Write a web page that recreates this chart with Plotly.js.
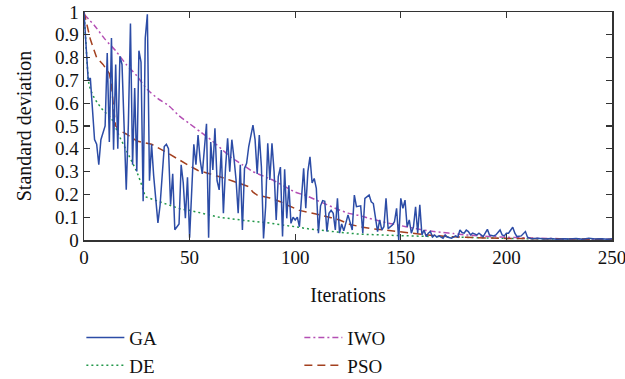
<!DOCTYPE html>
<html>
<head>
<meta charset="utf-8">
<script src="https://cdn.plot.ly/plotly-3.0.1.min.js"></script>
<style>html,body{margin:0;padding:0;background:#fff;}#chart{width:625px;height:379px;}</style>
</head>
<body>
<div id="chart"></div>
<script>
// GA (noisy)
const gaIter = [0,1,2,3,5,6,7,8,10,11,12,13,14,15,16,17,18,20,21,22,23,24,25,26,27,28,29,30,31,32,33,35,36,38,39,40,41,42,43,45,46,47,48,49,50,52,53,54,55,56,57,58,59,60,61,62,63,64,65,66,67,68,69,70,71,72,73,74,75,76,77,78,80,81,82,83,84,85,86,87,88,89,90,91,92,93,94,95,96,97,98,99,100,101,102,103,104,105,106,107,108,109,110,111,112,113,114,115,116,117,118,119,120,121,122,123,125,127,128,129,131,132,133,135,136,137,138,139,140,141,142,143,144,145,146,147,148,149,150,151,152,153,154,155,156,157,158,159,160,161,162,163,164,165,166,167,168,170,171,172,174,176,177,178,179,180,181,182,183,184,186,187,189,191,192,194,195,197,198,199,200,201,203,204,205,207,209,210,212,215,218,221,224,227,230,233,236,239,242,245,248,250];
const gaStd = [1.0,0.86,0.70,0.71,0.44,0.42,0.33,0.44,0.50,0.82,0.43,0.886,0.396,0.77,0.40,0.806,0.77,0.22,0.506,0.95,0.33,0.667,0.30,0.83,0.78,0.17,0.886,0.99,0.26,0.42,0.28,0.075,0.15,0.41,0.42,0.40,0.155,0.29,0.045,0.07,0.33,0.25,0.096,0.275,0.01,0.42,0.33,0.46,0.35,0.29,0.42,0.51,0.01,0.43,0.307,0.49,0.26,0.22,0.395,0.117,0.314,0.446,0.30,0.44,0.36,0.263,0.117,0.33,0.044,0.314,0.336,0.41,0.504,0.44,0.29,0.46,0.32,0.007,0.146,0.424,0.263,0.424,0.30,0.088,0.278,0.32,0.015,0.31,0.095,0.24,0.073,0.10,0.088,0.10,0.058,0.20,0.314,0.139,0.30,0.365,0.25,0.27,0.227,0.03,0.15,0.173,0.17,0.037,0.117,0.13,0.117,0.044,0.183,0.03,0.07,0.04,0.11,0.044,0.197,0.146,0.15,0.03,0.183,0.197,0.168,0.16,0.088,0.037,0.088,0.044,0.058,0.183,0.05,0.058,0.066,0.08,0.139,0.0,0.183,0.139,0.175,0.058,0.088,0.03,0.058,0.146,0.03,0.154,0.022,0.044,0.015,0.03,0.037,0.013,0.022,0.013,0.018,0.008,0.022,0.013,0.008,0.018,0.013,0.044,0.033,0.03,0.044,0.037,0.022,0.03,0.022,0.03,0.015,0.047,0.022,0.018,0.022,0.044,0.022,0.018,0.03,0.03,0.056,0.03,0.015,0.018,0.037,0.012,0.005,0.008,0.004,0.007,0.003,0.006,0.004,0.007,0.003,0.008,0.004,0.006,0.003,0.005];

// DE
const deIter = [0,1,2,3,5,8,10,13,15,17,21,25,27,29,32,38,46,50,57,64,75,88,100,107,120,130,150,173,200,225,250];
const deStd  = [1.0,0.84,0.70,0.66,0.62,0.58,0.56,0.535,0.49,0.45,0.375,0.30,0.25,0.19,0.18,0.162,0.135,0.13,0.114,0.10,0.087,0.074,0.058,0.048,0.035,0.026,0.019,0.013,0.007,0.004,0.002];

// IWO
const iwoIter = [0,5,10,15,20,25,30,35,40,45,50,55,60,65,70,75,80,85,90,95,100,105,110,115,120,125,130,135,140,145,150,155,160,165,170,175,180,190,200,210,220,230,240,250];
const iwoStd  = [0.99,0.94,0.88,0.83,0.77,0.72,0.66,0.62,0.59,0.545,0.51,0.475,0.44,0.40,0.36,0.33,0.30,0.28,0.26,0.235,0.21,0.195,0.175,0.155,0.135,0.118,0.108,0.095,0.083,0.072,0.063,0.054,0.045,0.038,0.033,0.028,0.023,0.016,0.012,0.009,0.007,0.005,0.004,0.003];

// PSO
const psoIter = [0,3,6,9,12,13,14,15,17,20,25,32,38,46,50,54,60,65,70,75,78,80,82,88,93,97,102,107,112,117,121,126,131,136,142,150,158,165,173,180,190,200,210,220,235,250];
const psoStd  = [1.0,0.88,0.80,0.77,0.73,0.68,0.58,0.50,0.48,0.465,0.434,0.42,0.39,0.345,0.325,0.305,0.29,0.275,0.26,0.245,0.234,0.21,0.197,0.184,0.168,0.15,0.13,0.12,0.11,0.098,0.088,0.068,0.058,0.05,0.044,0.035,0.026,0.02,0.015,0.012,0.009,0.007,0.006,0.005,0.004,0.003];

const seriesNames = ['GA','DE','IWO','PSO'];
const xTicks = [0,50,100,150,200,250];
const yTicks = [0,0.1,0.2,0.3,0.4,0.5,0.6,0.7,0.8,0.9,1];
const yTickText = ['0','0.1','0.2','0.3','0.4','0.5','0.6','0.7','0.8','0.9','1'];

const FONT = 'Liberation Serif, Times New Roman, serif';

const traces = [
  {x: deIter, y: deStd, name: seriesNames[1], mode: 'lines', legendrank: 3,
   line: {color: '#22984a', width: 1.5, dash: '2px,3px'}},
  {x: iwoIter, y: iwoStd, name: seriesNames[2], mode: 'lines', legendrank: 2, line: {shape: 'spline', smoothing: 0.6,
   color: '#b44fb4', width: 1.5, dash: '6px,3px,2px,3px'}},
  {x: psoIter, y: psoStd, name: seriesNames[3], mode: 'lines', legendrank: 4,
   line: {color: '#a3401f', width: 1.5, dash: '8px,5px'}},
  {x: gaIter, y: gaStd, name: seriesNames[0], mode: 'lines', legendrank: 1,
   line: {color: '#2c4ca6', width: 1.5}}
];

const layout = {
  width: 625, height: 379,
  margin: {l: 84, r: 13, t: 12, b: 139, autoexpand: false},
  paper_bgcolor: '#fff', plot_bgcolor: '#fff',
  font: {family: FONT, size: 19, color: '#111'},
  showlegend: true,
  legend: {orientation: 'h', x: -0.005, xanchor: 'left', y: -0.345, yanchor: 'top',
    entrywidth: 165, entrywidthmode: 'pixels', font: {family: FONT, size: 19, color: '#111'},
    traceorder: 'normal', itemwidth: 38, tracegroupgap: 0},
  xaxis: {range: [0, 250], tickvals: xTicks, ticktext: xTicks.map(String), ticklabeloverflow: 'allow',
    ticks: 'inside', ticklen: 6, tickwidth: 1.3, tickcolor: '#333', showline: true, linecolor: '#333', linewidth: 1.5,
    mirror: 'ticks', showgrid: false, zeroline: false, tickfont: {size: 19},
    title: {text: 'Iterations', font: {size: 20}, standoff: 20}},
  yaxis: {range: [0, 1], tickvals: yTicks, ticktext: yTickText,
    ticks: 'inside', ticklen: 6, tickwidth: 1.3, tickcolor: '#333', showline: true, linecolor: '#333', linewidth: 1.5,
    mirror: 'ticks', showgrid: false, zeroline: false, tickfont: {size: 19},
    title: {text: 'Standard deviation', font: {size: 20}, standoff: 18}}
};

Plotly.newPlot('chart', traces, layout, {displayModeBar: false, staticPlot: true});
</script>
</body>
</html>
